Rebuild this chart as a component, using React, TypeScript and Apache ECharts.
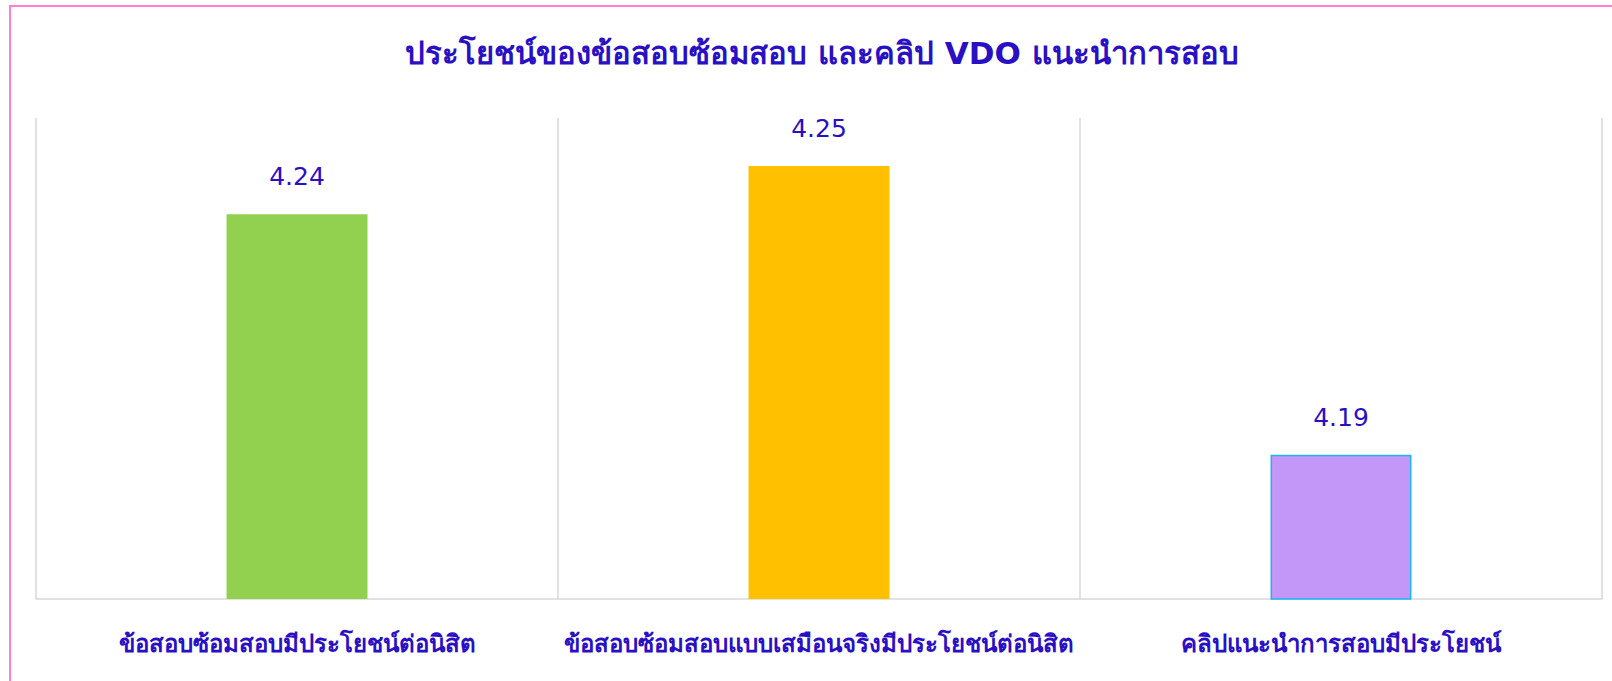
import React, { useEffect, useRef } from "react";
import * as echarts from "echarts";

const titleText = "ประโยชน์ของข้อสอบซ้อมสอบ และคลิป VDO แนะนำการสอบ";
const categories = [
  "ข้อสอบซ้อมสอบมีประโยชน์ต่อนิสิต",
  "ข้อสอบซ้อมสอบแบบเสมือนจริงมีประโยชน์ต่อนิสิต",
  "คลิปแนะนำการสอบมีประโยชน์",
];
const values = [4.24, 4.25, 4.19];
const barColors = ["#92D050", "#FFC000", "#C397F7"];
const barBorders = ["#92D050", "#FFC000", "#1EB4F0"];

const TEXT = "#2A10C4";
const FONT = "Tahoma, 'DejaVu Sans', 'Noto Sans', sans-serif";

export default function App() {
  const ref = useRef<HTMLDivElement>(null);
  useEffect(() => {
    if (!ref.current) return;
    const chart = echarts.init(ref.current, undefined, { renderer: "svg" });
    chart.setOption({
      animation: false,
      backgroundColor: "#ffffff",
      title: {
        text: titleText,
        left: 817,
        textAlign: "center",
        top: 32,
        textStyle: { color: TEXT, fontSize: 31, fontWeight: "bold", fontFamily: FONT },
      },
      graphic: [
        {
          type: "rect",
          shape: { x: 10, y: 6, width: 1640, height: 720 },
          style: { fill: "none", stroke: "#FF7FD6", lineWidth: 2 },
          silent: true,
        },
      ],
      grid: { left: 36, right: 10, top: 118, bottom: 82 },
      xAxis: {
        type: "category",
        data: categories,
        boundaryGap: true,
        axisLine: { show: true, lineStyle: { color: "#D9D9D9", width: 1.5 } },
        axisTick: { show: false },
        splitLine: { show: true, lineStyle: { color: "#D9D9D9", width: 1.5 } },
        axisLabel: {
          color: TEXT,
          fontSize: 24,
          fontWeight: "bold",
          fontFamily: FONT,
          margin: 33,
          interval: 0,
        },
      },
      yAxis: {
        type: "value",
        min: 4.16,
        max: 4.26,
        show: false,
        splitLine: { show: false },
      },
      series: [
        {
          type: "bar",
          barWidth: "27%",
          data: values.map((v, i) => ({
            value: v,
            itemStyle: { color: barColors[i], borderColor: barBorders[i], borderWidth: i === 2 ? 1.5 : 0 },
          })),
          label: {
            show: true,
            position: "top",
            distance: 25,
            color: TEXT,
            fontSize: 25,
            fontFamily: FONT,
            formatter: (p: any) => Number(p.value).toFixed(2),
          },
        },
      ],
    });
    return () => chart.dispose();
  }, []);
  return (
    <div
      ref={ref}
      style={{ position: "fixed", left: 0, top: 0, width: 1612, height: 681 }}
    />
  );
}
